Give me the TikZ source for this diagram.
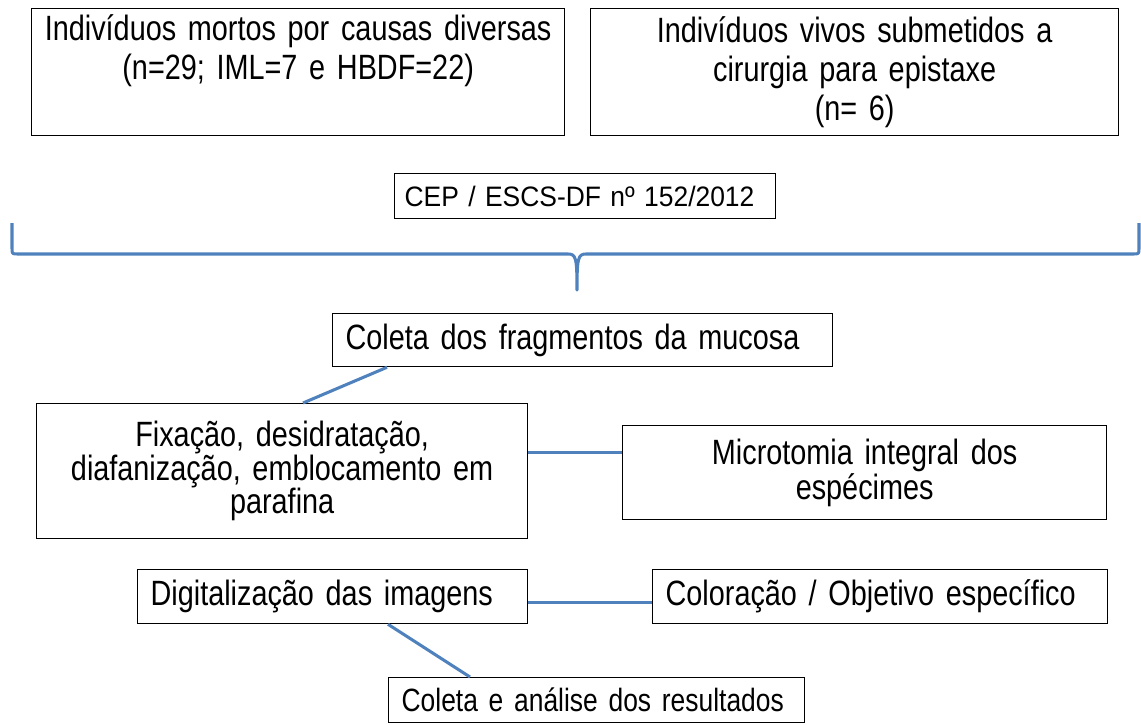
\documentclass[tikz,border=0pt]{standalone}
\usepackage{fontspec}
\setmainfont{Liberation Sans}[FakeStretch=0.82]
\newfontfamily\cepfont{Liberation Sans}[FakeStretch=0.94]
\usepackage{tikz}
\usetikzlibrary{positioning}

\definecolor{azul}{HTML}{4F81BD}

\begin{document}
\begin{tikzpicture}[x=0.03cm, y=-0.03cm, semithick]
\tikzstyle{caixa}=[draw=black, line width=1.1pt, rectangle, anchor=north west, inner xsep=0.39cm, inner ysep=0pt, align=center, font=\fontsize{30}{33}\selectfont]
\tikzstyle{etapa}=[caixa, align=left]
\tikzstyle{liga}=[draw=azul, line width=2.6pt]

\useasboundingbox (0,0) rectangle (1141,725);

\node[caixa, text width=15.21cm, minimum height=3.81cm]   (mortos) at (31,8)   {Indivíduos mortos por causas diversas\\(n=29; IML=7 e HBDF=22)\\ \strut};
\node[caixa, text width=15.06cm, minimum height=3.81cm]   (vivos) at (590,8)   {Indivíduos vivos submetidos a\\cirurgia para epistaxe\\(n= 6)};
\node[etapa, text width=10.83cm, inner xsep=0.3cm, minimum height=1.35cm, font=\cepfont\fontsize{24}{26}\selectfont]   (cep) at (394,173)   {\mbox{CEP / ESCS-DF nº 152/2012}};

\node[etapa, text width=14.22cm, minimum height=1.59cm]   (coleta) at (332,313)   {\mbox{Coleta dos fragmentos da mucosa}};
\node[caixa, text width=13.95cm, minimum height=4.05cm, font=\fontsize{30}{28.5}\selectfont]   (fixacao) at (36,403)   {Fixação, desidratação,\\diafanização, emblocamento em\\parafina};
\node[caixa, text width=13.74cm, minimum height=2.82cm, font=\fontsize{30}{30}\selectfont]   (micro) at (622,425)   {Microtomia integral dos\\espécimes};

\node[etapa, text width=10.92cm, minimum height=1.62cm]   (digit) at (137,569)   {\mbox{Digitalização das imagens}};
\node[etapa, text width=12.87cm, minimum height=1.62cm]   (color) at (652,569)   {\mbox{Coloração / Objetivo específico}};
\node[etapa, text width=11.70cm, minimum height=1.35cm, font=\fontsize{27.5}{30}\selectfont]   (analise) at (388,677)   {\mbox{Coleta e análise dos resultados}};

% chave
\draw[liga, line join=round] (12,223) -- (12,248) .. controls (12,254) .. (18,254) -- (568,254)
  .. controls (576,254) and (577,258) .. (577,290)
  .. controls (577,258) and (578,254) .. (586,254) -- (1133,254)
  .. controls (1139,254) .. (1139,248) -- (1139,223);

\path[liga]
([xshift=1.65cm]coleta.south west) edge ([xshift=8.01cm]fixacao.north west)
([yshift=0.56cm]fixacao.east) edge ([yshift=0.56cm]fixacao.east -| micro.west)
([yshift=-0.18cm]digit.east) edge ([yshift=-0.18cm]digit.east -| color.west)
([xshift=7.53cm]digit.south west) edge ([xshift=2.46cm]analise.north west);

\end{tikzpicture}
\end{document}
